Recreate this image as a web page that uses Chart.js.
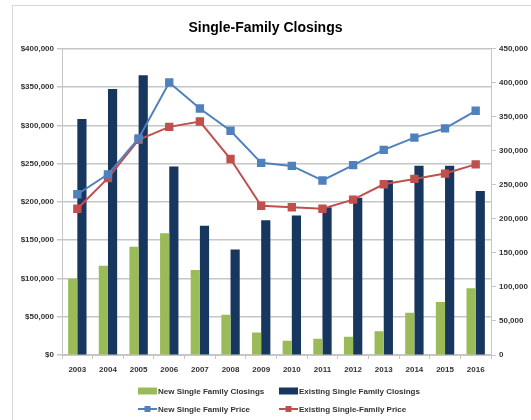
<!DOCTYPE html>
<html>
<head>
<meta charset="utf-8">
<script src="https://cdn.jsdelivr.net/npm/chart.js"></script>
<style>
  html, body { margin: 0; padding: 0; background: #fff; }
  #wrap { position: relative; width: 531px; height: 420px; overflow: hidden; }
  #frame { position: absolute; left: 12px; top: 5px; width: 600px; height: 500px; border: 1px solid #d9d9d9; }
  canvas { position: absolute; left: 0; top: 0; }
</style>
</head>
<body>
<div id="wrap">
  <div id="frame"></div>
  <canvas id="chart" width="531" height="420"></canvas>
</div>
<script>
// values
var years = ['2003', '2004', '2005', '2006', '2007', '2008', '2009', '2010', '2011', '2012', '2013', '2014', '2015', '2016'];
var newClosings = [112000, 131000, 159000, 179000, 125000, 59000, 33000, 21000, 24000, 27000, 35000, 62000, 78000, 98000];
var existingClosings = [347000, 391000, 411000, 277000, 190000, 155000, 198000, 205000, 217000, 231000, 257000, 278000, 278000, 241000];
var newPrice = [210000, 236000, 283000, 356000, 322000, 293000, 251000, 247000, 228000, 248000, 268000, 284000, 296000, 319000];
var existingPrice = [191000, 231000, 281000, 298000, 305000, 256000, 195000, 193000, 191000, 203000, 223000, 230000, 237000, 249000];

var FONT = '"Liberation Sans", Arial, sans-serif';
var TEXT = '#333333';
var GRID = '#c6c6c6';

// two-row legend like the spreadsheet one
var sheetLegend = {
    id: 'sheetLegend',
    afterDraw: function (chart) {
        var ctx = chart.ctx;
        var cols = [138, 279], rows = [391, 409];
        ctx.save();
        ctx.font = 'bold 8px ' + FONT;
        ctx.textBaseline = 'middle';
        chart.data.datasets.forEach(function (ds, i) {
            var x = cols[i % 2], y = rows[Math.floor(i / 2)];
            if (ds.type === 'line') {
                ctx.strokeStyle = ds.borderColor;
                ctx.lineWidth = 2;
                ctx.beginPath();
                ctx.moveTo(x, y);
                ctx.lineTo(x + 19, y);
                ctx.stroke();
                ctx.fillStyle = ds.borderColor;
                ctx.fillRect(x + 6.5, y - 3, 6, 6);
            } else {
                ctx.fillStyle = ds.backgroundColor;
                ctx.fillRect(x, y - 3.5, 19, 7);
            }
            ctx.fillStyle = TEXT;
            ctx.fillText(ds.label, x + 20, y + 0.5);
        });
        ctx.restore();
    }
};

new Chart(document.getElementById('chart'), {
    data: {
        labels: years,
        datasets: [
            {
                type: 'bar',
                label: 'New Single Family Closings',
                data: newClosings,
                backgroundColor: '#9bbb59',
                yAxisID: 'y1',
                order: 1,
                categoryPercentage: 0.6,
                barPercentage: 1.0
            },
            {
                type: 'bar',
                label: 'Existing Single Family Closings',
                data: existingClosings,
                backgroundColor: '#17375e',
                yAxisID: 'y1',
                order: 1,
                categoryPercentage: 0.6,
                barPercentage: 1.0
            },
            {
                type: 'line',
                label: 'New Single Family Price',
                data: newPrice,
                borderColor: '#4f81bd',
                backgroundColor: '#4f81bd',
                borderWidth: 2,
                pointStyle: 'rect',
                pointRadius: 4.5,
                tension: 0,
                yAxisID: 'y',
                order: 0
            },
            {
                type: 'line',
                label: 'Existing Single-Family Price',
                data: existingPrice,
                borderColor: '#c0504d',
                backgroundColor: '#c0504d',
                borderWidth: 2,
                pointStyle: 'rect',
                pointRadius: 4.5,
                tension: 0,
                yAxisID: 'y',
                order: 0
            }
        ]
    },
    options: {
        responsive: false,
        animation: false,
        layout: { padding: { left: 0, right: 0, top: 0, bottom: 45 } },
        plugins: {
            legend: { display: false },
            tooltip: { enabled: false },
            title: {
                display: true,
                text: 'Single-Family Closings',
                color: '#000',
                font: { family: FONT, size: 14, weight: 'bold' },
                padding: { top: 20, bottom: 12 }
            }
        },
        scales: {
            x: {
                grid: { drawOnChartArea: false, offset: true, color: GRID, tickLength: 4 },
                border: { color: GRID },
                ticks: { color: TEXT, font: { family: FONT, size: 8, weight: 'bold' }, padding: 6, maxRotation: 0 },
                afterFit: function (s) { s.height = 20; }
            },
            y: {
                position: 'left',
                min: 0,
                max: 400000,
                ticks: {
                    stepSize: 50000,
                    color: TEXT,
                    font: { family: FONT, size: 8, weight: 'bold' },
                    padding: 3,
                    callback: function (v) { return '$' + v.toLocaleString('en-US'); }
                },
                grid: { color: GRID, lineWidth: 1.5, tickLength: 5 },
                border: { color: GRID },
                afterFit: function (s) { s.width = 62; }
            },
            y1: {
                position: 'right',
                min: 0,
                max: 450000,
                ticks: {
                    stepSize: 50000,
                    color: TEXT,
                    font: { family: FONT, size: 8, weight: 'bold' },
                    padding: 3,
                    callback: function (v) { return v.toLocaleString('en-US'); }
                },
                grid: { drawOnChartArea: false, color: GRID, tickLength: 5 },
                border: { color: GRID },
                afterFit: function (s) { s.width = 40; }
            }
        }
    },
    plugins: [sheetLegend]
});
</script>
</body>
</html>
